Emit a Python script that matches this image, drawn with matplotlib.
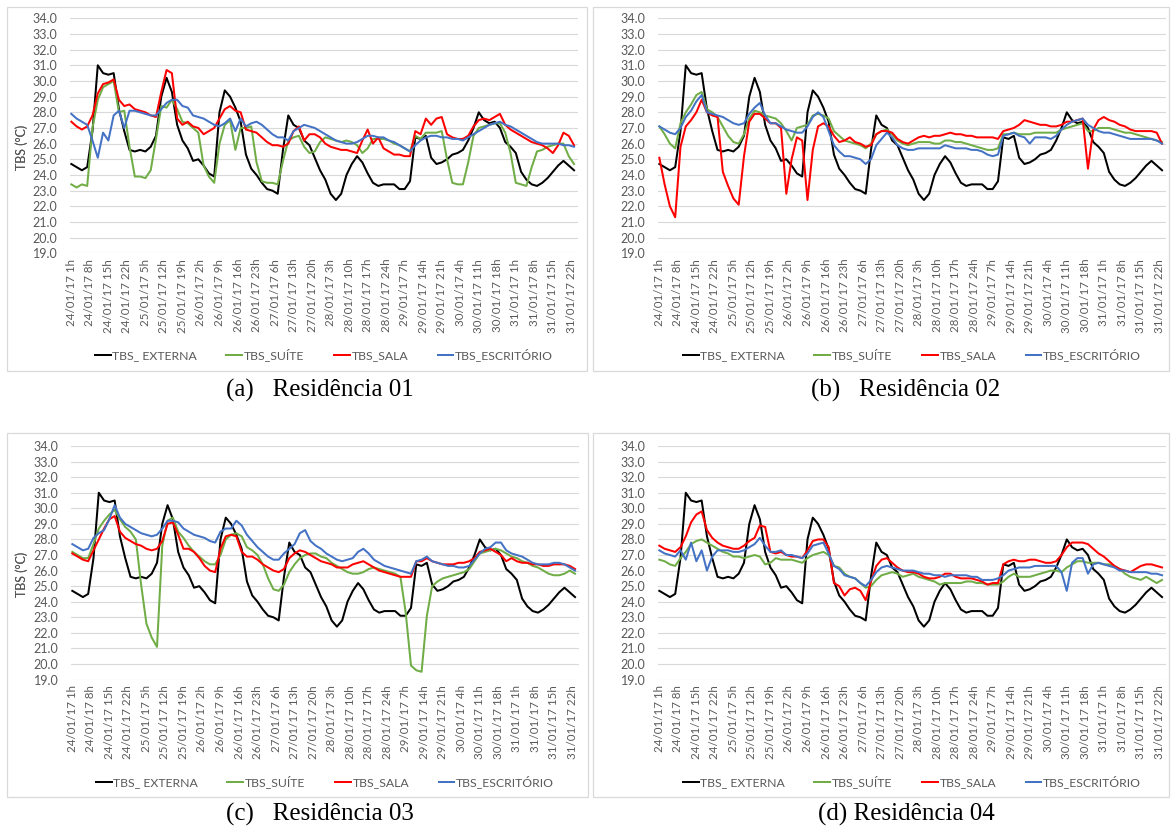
import matplotlib.pyplot as plt
from matplotlib.patches import Rectangle
import numpy as np

# hourly readings, 24/01/17 1h .. 31/01/17 24h, read every 2 hours
hours = np.arange(0, 192, 2)
tick_pos = np.arange(0, 192, 7)
tick_labels = ['24/01/17 1h', '24/01/17 8h', '24/01/17 15h', '24/01/17 22h',
               '25/01/17 5h', '25/01/17 12h', '25/01/17 19h', '26/01/17 2h',
               '26/01/17 9h', '26/01/17 16h', '26/01/17 23h', '27/01/17 6h',
               '27/01/17 13h', '27/01/17 20h', '28/01/17 3h', '28/01/17 10h',
               '28/01/17 17h', '28/01/17 24h', '29/01/17 7h', '29/01/17 14h',
               '29/01/17 21h', '30/01/17 4h', '30/01/17 11h', '30/01/17 18h',
               '31/01/17 1h', '31/01/17 8h', '31/01/17 15h', '31/01/17 22h']

tbs_externa = [
    24.7, 24.5, 24.3, 24.5, 26.8, 31.0, 30.5, 30.4, 30.5, 28.2, 26.8, 25.6,
    25.5, 25.6, 25.5, 25.8, 26.5, 29.0, 30.2, 29.3, 27.2, 26.2, 25.7, 24.9,
    25.0, 24.6, 24.1, 23.9, 28.0, 29.4, 29.0, 28.3, 27.4, 25.3, 24.4, 24.0,
    23.5, 23.1, 23.0, 22.8, 25.6, 27.8, 27.2, 27.0, 26.2, 25.9, 25.1, 24.3,
    23.7, 22.8, 22.4, 22.8, 24.0, 24.7, 25.2, 24.8, 24.1, 23.5, 23.3, 23.4,
    23.4, 23.4, 23.1, 23.1, 23.6, 26.4, 26.3, 26.5, 25.1, 24.7, 24.8, 25.0,
    25.3, 25.4, 25.6, 26.2, 27.0, 28.0, 27.5, 27.3, 27.4, 27.0, 26.1, 25.8,
    25.4, 24.2, 23.7, 23.4, 23.3, 23.5, 23.8, 24.2, 24.6, 24.9, 24.6, 24.3]

# Residência 01
r1_suite = [
    23.4, 23.2, 23.4, 23.3, 27.0, 28.8, 29.6, 29.8, 30.0, 28.0, 28.1, 25.8,
    23.9, 23.9, 23.8, 24.3, 26.3, 28.4, 28.3, 28.8, 28.2, 27.4, 27.3, 27.0,
    26.7, 24.6, 23.9, 23.5, 26.0, 27.2, 27.5, 25.6, 27.0, 27.0, 27.1, 24.8,
    23.6, 23.5, 23.5, 23.4, 24.9, 26.2, 26.4, 26.5, 25.8, 25.4, 25.5, 26.1,
    26.4, 26.3, 26.2, 26.1, 26.2, 26.1, 25.9, 25.4, 25.7, 26.3, 26.3, 26.3,
    26.2, 26.0, 25.9, 25.7, 25.5, 26.5, 26.3, 26.7, 26.7, 26.7, 26.8, 25.0,
    23.5, 23.4, 23.4, 24.8, 26.5, 27.0, 27.1, 27.2, 27.3, 27.3, 26.7, 25.4,
    23.5, 23.4, 23.3, 24.5, 25.5, 25.6, 25.8, 25.9, 26.0, 26.0, 25.2, 24.7]
r1_sala = [
    27.4, 27.1, 26.9, 27.1, 27.8, 29.2, 29.8, 29.9, 30.1, 28.8, 28.4, 28.5,
    28.2, 28.1, 28.0, 27.8, 27.7, 29.3, 30.7, 30.5, 27.6, 27.2, 27.4, 27.1,
    27.0, 26.6, 26.8, 27.0, 27.6, 28.2, 28.4, 28.1, 28.0, 26.9, 26.8, 26.7,
    26.4, 26.1, 25.9, 25.9, 25.8, 26.0, 26.8, 27.1, 26.2, 26.6, 26.6, 26.4,
    26.0, 25.8, 25.7, 25.6, 25.6, 25.5, 25.4, 26.2, 26.9, 26.0, 26.4, 25.7,
    25.5, 25.3, 25.3, 25.2, 25.2, 26.8, 26.6, 27.6, 27.2, 27.6, 27.7, 26.6,
    26.4, 26.3, 26.3, 26.5, 27.1, 27.5, 27.6, 27.5, 27.7, 27.9, 27.2, 26.9,
    26.7, 26.5, 26.3, 26.1, 26.0, 25.9, 25.7, 25.4, 25.9, 26.7, 26.5, 25.9]
r1_escritorio = [
    27.9, 27.6, 27.4, 27.2, 26.2, 25.1, 26.7, 26.2, 27.8, 28.1, 27.0, 28.1,
    28.1, 28.0, 27.9, 27.8, 27.8, 28.2, 28.6, 28.8, 28.8, 28.4, 28.3, 27.8,
    27.7, 27.6, 27.4, 27.2, 27.1, 27.3, 27.6, 26.8, 27.6, 27.1, 27.3, 27.4,
    27.2, 26.9, 26.6, 26.4, 26.4, 26.2, 26.8, 27.0, 27.2, 27.1, 27.0, 26.8,
    26.6, 26.4, 26.2, 26.1, 26.0, 26.0, 26.1, 26.3, 26.5, 26.5, 26.4, 26.4,
    26.2, 26.1, 25.9, 25.7, 25.5, 25.9, 26.2, 26.4, 26.5, 26.5, 26.4, 26.4,
    26.3, 26.3, 26.2, 26.4, 26.6, 26.8, 27.0, 27.2, 27.3, 27.4, 27.2, 27.1,
    26.9, 26.7, 26.5, 26.3, 26.1, 26.0, 26.0, 26.0, 26.0, 25.9, 25.9, 25.8]

# Residência 02
r2_suite = [
    27.1, 26.6, 26.0, 25.7, 27.3, 28.0, 28.5, 29.1, 29.3, 28.2, 28.0, 27.7,
    27.1, 26.5, 26.1, 26.0, 26.6, 27.6, 28.1, 28.0, 27.8, 27.7, 27.6, 27.3,
    26.8, 26.2, 27.0, 27.1, 27.2, 27.8, 27.9, 27.8, 27.6, 26.8, 26.5, 26.2,
    26.1, 26.0, 25.9, 25.7, 26.0, 26.6, 26.8, 26.9, 26.6, 26.2, 26.0, 25.9,
    26.0, 26.1, 26.1, 26.1, 26.0, 26.0, 26.2, 26.2, 26.1, 26.1, 26.0, 25.9,
    25.8, 25.7, 25.6, 25.6, 25.7, 26.6, 26.6, 26.7, 26.6, 26.6, 26.6, 26.7,
    26.7, 26.7, 26.7, 26.7, 26.9, 27.0, 27.1, 27.2, 27.3, 26.8, 26.8, 27.0,
    27.0, 27.0, 26.9, 26.8, 26.7, 26.7, 26.6, 26.5, 26.4, 26.3, 26.2, 26.1]
r2_sala = [
    25.1, 23.4, 22.0, 21.3, 25.8, 27.1, 27.5, 28.0, 28.8, 28.0, 27.8, 27.7,
    24.2, 23.3, 22.5, 22.1, 25.2, 27.4, 27.9, 27.9, 27.6, 27.3, 27.3, 27.0,
    22.8, 25.0, 26.4, 26.2, 22.4, 25.6, 27.1, 27.3, 27.1, 26.5, 26.1, 26.2,
    26.4, 26.1, 26.0, 25.8, 25.9, 26.6, 26.8, 26.8, 26.7, 26.3, 26.1, 26.0,
    26.2, 26.4, 26.5, 26.4, 26.5, 26.5, 26.6, 26.7, 26.6, 26.6, 26.5, 26.5,
    26.4, 26.4, 26.4, 26.4, 26.3, 26.8, 26.9, 27.0, 27.2, 27.5, 27.4, 27.3,
    27.2, 27.2, 27.1, 27.1, 27.2, 27.4, 27.4, 27.5, 27.6, 24.4, 26.9, 27.5,
    27.7, 27.5, 27.4, 27.2, 27.1, 26.9, 26.8, 26.8, 26.8, 26.8, 26.7, 26.0]
r2_escritorio = [
    27.1, 26.9, 26.7, 26.6, 27.0, 27.7, 28.1, 28.7, 29.1, 28.0, 27.9, 27.8,
    27.7, 27.5, 27.3, 27.2, 27.3, 27.9, 28.3, 28.6, 27.8, 27.3, 27.3, 27.1,
    26.9, 26.8, 26.7, 26.7, 27.1, 27.7, 28.0, 27.7, 26.8, 25.9, 25.5, 25.2,
    25.2, 25.1, 25.0, 24.7, 25.0, 25.9, 26.3, 26.7, 26.4, 25.9, 25.7, 25.6,
    25.6, 25.7, 25.7, 25.7, 25.7, 25.7, 25.9, 25.8, 25.7, 25.7, 25.7, 25.6,
    25.6, 25.5, 25.3, 25.2, 25.3, 26.5, 26.6, 26.7, 26.5, 26.4, 26.0, 26.4,
    26.4, 26.4, 26.3, 26.5, 26.9, 27.2, 27.4, 27.5, 27.6, 27.2, 27.0, 26.8,
    26.7, 26.7, 26.6, 26.5, 26.4, 26.3, 26.3, 26.3, 26.3, 26.3, 26.2, 26.0]

# Residência 03
r3_suite = [
    27.2, 27.0, 26.8, 26.8, 27.7, 28.7, 29.2, 29.6, 29.9, 29.3, 28.8, 28.5,
    28.0, 25.1, 22.6, 21.7, 21.1, 27.6, 29.2, 29.4, 28.5, 28.1, 27.6, 27.2,
    26.9, 26.6, 26.4, 26.4, 27.0, 28.0, 28.3, 28.4, 28.2, 27.5, 27.3, 27.0,
    26.4, 25.5, 24.8, 24.7, 25.1, 25.9, 26.4, 26.8, 27.0, 27.1, 27.1, 26.9,
    26.8, 26.5, 26.3, 26.1, 25.9, 25.8, 25.8, 25.9, 26.1, 26.2, 26.1, 26.0,
    25.9, 25.8, 25.6, 23.3, 19.9, 19.6, 19.5, 23.1, 25.0, 25.3, 25.5, 25.6,
    25.7, 25.8, 25.9, 26.1, 26.6, 27.1, 27.2, 27.3, 27.4, 27.3, 27.1, 26.9,
    26.8, 26.6, 26.5, 26.3, 26.2, 26.0, 25.8, 25.7, 25.7, 25.8, 26.0, 25.8]
r3_sala = [
    27.1, 26.9, 26.7, 26.6, 27.3, 28.0, 28.7, 29.3, 29.5, 28.5, 28.1, 27.9,
    27.7, 27.6, 27.4, 27.3, 27.4, 27.9, 29.0, 29.1, 28.3, 27.4, 27.4, 27.2,
    26.8, 26.3, 26.0, 25.9, 27.4, 28.2, 28.3, 28.2, 27.2, 26.9, 26.9, 26.7,
    26.4, 26.2, 26.0, 25.9, 26.1, 26.8, 27.1, 27.3, 27.2, 27.0, 26.8, 26.6,
    26.5, 26.4, 26.2, 26.2, 26.2, 26.4, 26.5, 26.6, 26.4, 26.2, 26.0, 25.9,
    25.8, 25.7, 25.6, 25.6, 25.6, 26.6, 26.6, 26.8, 26.6, 26.5, 26.4, 26.4,
    26.4, 26.5, 26.5, 26.6, 26.8, 27.2, 27.3, 27.4, 27.2, 27.0, 26.6, 26.8,
    26.6, 26.5, 26.5, 26.4, 26.4, 26.3, 26.3, 26.4, 26.4, 26.4, 26.3, 26.1]
r3_escritorio = [
    27.7, 27.5, 27.3, 27.4, 28.1, 28.4, 28.6, 29.3, 30.2, 29.4, 29.0, 28.8,
    28.6, 28.4, 28.3, 28.2, 28.3, 28.7, 29.2, 29.2, 29.1, 28.7, 28.5, 28.3,
    28.2, 28.1, 27.9, 27.8, 28.5, 28.7, 28.7, 29.2, 28.9, 28.3, 27.9, 27.5,
    27.2, 26.9, 26.7, 26.7, 27.1, 27.4, 27.7, 28.4, 28.6, 27.9, 27.6, 27.4,
    27.1, 26.9, 26.7, 26.6, 26.7, 26.8, 27.2, 27.4, 27.1, 26.7, 26.5, 26.3,
    26.2, 26.1, 26.0, 25.9, 25.8, 26.6, 26.7, 26.9, 26.6, 26.5, 26.4, 26.3,
    26.3, 26.2, 26.2, 26.3, 26.7, 27.1, 27.4, 27.5, 27.8, 27.8, 27.3, 27.1,
    27.0, 26.9, 26.7, 26.5, 26.4, 26.4, 26.4, 26.5, 26.5, 26.4, 26.2, 26.0]

# Residência 04
r4_suite = [
    26.7, 26.6, 26.4, 26.3, 26.8, 27.2, 27.7, 27.9, 28.0, 27.8, 27.6, 27.4,
    27.2, 27.1, 26.9, 26.9, 26.8, 26.9, 27.0, 26.9, 26.4, 26.5, 26.8, 26.7,
    26.7, 26.7, 26.6, 26.5, 26.8, 27.0, 27.1, 27.2, 27.0, 26.3, 26.2, 25.8,
    25.6, 25.5, 25.2, 24.9, 25.0, 25.4, 25.7, 25.8, 25.9, 25.8, 25.6, 25.7,
    25.8, 25.6, 25.5, 25.4, 25.3, 25.1, 25.2, 25.2, 25.2, 25.2, 25.3, 25.3,
    25.2, 25.2, 25.1, 25.1, 25.1, 25.3, 25.6, 25.8, 25.6, 25.6, 25.6, 25.7,
    25.8, 25.9, 26.0, 26.0, 25.9, 26.2, 26.4, 26.6, 26.6, 26.5, 26.5, 26.5,
    26.4, 26.4, 26.3, 26.1, 25.8, 25.6, 25.5, 25.4, 25.6, 25.4, 25.2, 25.4]
r4_sala = [
    27.6, 27.4, 27.3, 27.2, 27.5, 28.2, 29.1, 29.6, 29.8, 28.6, 28.1, 27.8,
    27.6, 27.5, 27.4, 27.4, 27.6, 27.9, 28.1, 28.9, 28.8, 27.2, 27.1, 27.2,
    27.0, 26.9, 26.9, 26.8, 27.3, 27.9, 28.0, 28.0, 27.5, 25.2, 25.0, 24.4,
    24.8, 24.9, 24.7, 24.1, 25.3, 26.3, 26.7, 26.8, 26.5, 26.2, 26.0, 25.9,
    25.9, 25.8, 25.6, 25.5, 25.5, 25.6, 25.8, 25.8, 25.6, 25.5, 25.5, 25.5,
    25.4, 25.3, 25.1, 25.2, 25.2, 26.4, 26.6, 26.7, 26.6, 26.6, 26.7, 26.7,
    26.6, 26.5, 26.5, 26.6, 27.0, 27.5, 27.8, 27.8, 27.8, 27.7, 27.4, 27.1,
    26.9, 26.6, 26.3, 26.1, 26.0, 25.9, 26.1, 26.3, 26.4, 26.4, 26.3, 26.2]
r4_escritorio = [
    27.3, 27.1, 27.0, 26.9, 27.3, 26.7, 27.8, 26.6, 27.3, 26.0, 26.9, 27.3,
    27.3, 27.3, 27.2, 27.2, 27.3, 27.5, 27.7, 28.1, 27.6, 27.2, 27.2, 27.3,
    27.0, 27.0, 26.9, 26.8, 27.1, 27.6, 27.7, 27.8, 27.1, 26.3, 26.1, 25.7,
    25.6, 25.5, 25.2, 25.0, 25.4, 25.9, 26.2, 26.3, 26.2, 26.1, 26.0, 26.0,
    26.0, 25.9, 25.8, 25.8, 25.7, 25.7, 25.6, 25.7, 25.7, 25.7, 25.7, 25.6,
    25.6, 25.4, 25.4, 25.4, 25.5, 25.7, 26.0, 26.1, 26.2, 26.2, 26.2, 26.3,
    26.3, 26.3, 26.3, 26.3, 25.9, 24.7, 26.5, 26.8, 26.8, 25.8, 26.4, 26.5,
    26.4, 26.3, 26.2, 26.0, 26.0, 25.9, 25.9, 25.9, 25.9, 25.8, 25.8, 25.7]

residencias = [(r1_suite, r1_sala, r1_escritorio),
               (r2_suite, r2_sala, r2_escritorio),
               (r3_suite, r3_sala, r3_escritorio),
               (r4_suite, r4_sala, r4_escritorio)]
captions = ['(a)   Residência 01', '(b)   Residência 02',
            '(c)   Residência 03', '(d) Residência 04']
series_names = ['TBS_ EXTERNA', 'TBS_SUÍTE', 'TBS_SALA', 'TBS_ESCRITÓRIO']
colors = ['#000000', '#70AD47', '#FF0000', '#4472C4']

W, H = 1171, 826
fig = plt.figure(figsize=(W / 100, H / 100), dpi=100)
grey = '#595959'
font = 'Lato'

# pixel layout of the four charts
plot_px = [(70, 18.3, 578, 253.3), (658, 18.3, 1166, 253.3),
           (71, 446, 579, 679.6), (658, 446, 1166, 679.6)]
frame_px = [(7, 7, 587, 371), (593, 7, 1169, 371),
            (7, 433, 588, 797), (593, 433, 1169, 797)]
legend_y = [355, 355, 782, 782]
caption_xy = [(320, 390), (906, 390), (320, 814), (906, 814)]

for k in range(4):
    x0, y0, x1, y1 = frame_px[k]
    fig.add_artist(Rectangle((x0 / W, 1 - y1 / H), (x1 - x0) / W, (y1 - y0) / H,
                             transform=fig.transFigure, fill=False,
                             edgecolor='#D9D9D9', lw=0.9))

    x0, y0, x1, y1 = plot_px[k]
    ax = fig.add_axes([x0 / W, 1 - y1 / H, (x1 - x0) / W, (y1 - y0) / H])
    suite, sala, escritorio = residencias[k]
    for vals, name, c in zip([tbs_externa, suite, sala, escritorio], series_names, colors):
        ax.plot(hours, vals, color=c, lw=1.45, label=name)

    ax.set_xlim(-0.5, 191.5)
    ax.set_ylim(19, 34)
    ax.set_yticks(np.arange(19, 35, 1))
    ax.set_yticklabels(['%.1f' % v for v in np.arange(19, 35, 1)], family=font)
    ax.set_xticks(tick_pos)
    ax.set_xticklabels(tick_labels, rotation=90, family=font)
    ax.tick_params(axis='both', length=0, labelcolor=grey)
    ax.tick_params(axis='y', pad=9, labelsize=9)
    ax.tick_params(axis='x', pad=4, labelsize=8.3)
    for s in ax.spines.values():
        s.set_visible(False)
    ax.grid(axis='y', color='#D9D9D9', lw=0.8)
    ax.set_axisbelow(True)
    ax.set_ylabel('TBS (°C)', family=font, fontsize=9, color=grey)
    ax.yaxis.set_label_coords((28 - x0) / (x1 - x0), 0.45)

    leg = ax.legend(loc='center', bbox_to_anchor=((x0 + x1) / 2 / W, 1 - legend_y[k] / H),
                    bbox_transform=fig.transFigure, ncol=4, frameon=False,
                    prop={'family': font, 'size': 8.8}, handlelength=1.3,
                    handletextpad=0.15, columnspacing=2.4)
    for t in leg.get_texts():
        t.set_color(grey)

    cx, cy = caption_xy[k]
    fig.text(cx / W, 1 - cy / H, captions[k], ha='center', va='center',
             family='Liberation Serif', fontsize=18)

fig.savefig('out.png', dpi=100)
